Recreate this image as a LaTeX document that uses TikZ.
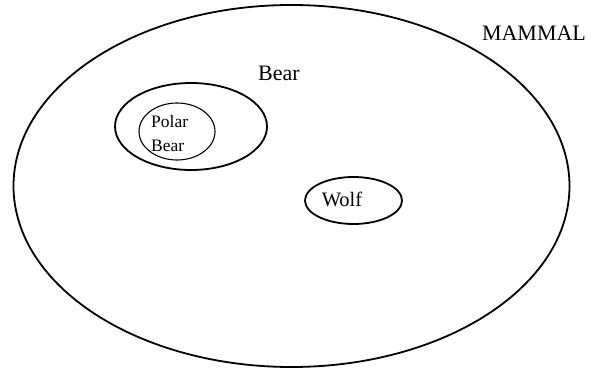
\documentclass[tikz,border=0pt]{standalone}
\usepackage{fontspec}
\setmainfont{Liberation Serif}
\begin{document}
\begin{tikzpicture}[x=1pt,y=-1pt,
  setring/.style={draw=black,line width=1.8pt},
  thinring/.style={draw=black,line width=1.1pt},
  lbl/.style={inner sep=0pt,anchor=base}]
\useasboundingbox (0,0) rectangle (606,371);
\draw[setring] (291.5,186) ellipse [x radius=278, y radius=181];
\draw[setring] (191,126.5) ellipse [x radius=76, y radius=43.5];
\draw[thinring] (177,131.5) ellipse [x radius=38, y radius=28.5];
\draw[setring] (353.5,200.5) ellipse [x radius=48.5, y radius=23.5];
\node[lbl,font=\fontsize{22}{26}\selectfont] (mammal) at (534,41) {MAMMAL};
\node[lbl,font=\fontsize{22}{26}\selectfont] (bear) at (279,81) {Bear};
\node[lbl,font=\fontsize{17.5}{21}\selectfont,anchor=base west] (polar) at (151,128) {Polar};
\node[lbl,font=\fontsize{17.5}{21}\selectfont,anchor=base west] (pbear) at (151,152) {Bear};
\node[lbl,font=\fontsize{20.5}{24}\selectfont] (wolf) at (342,207) {Wolf};
\end{tikzpicture}
\end{document}
